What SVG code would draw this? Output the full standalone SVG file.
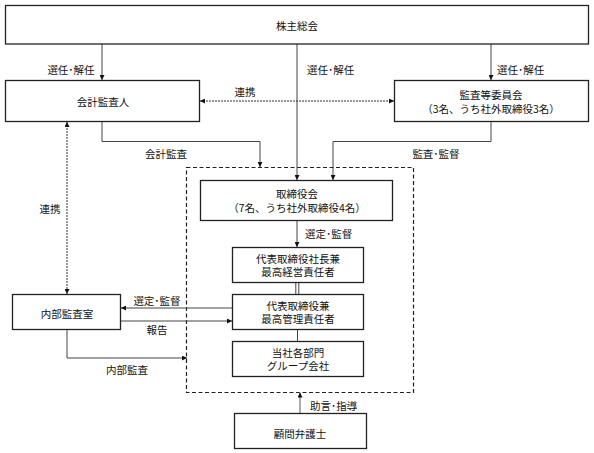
<svg xmlns="http://www.w3.org/2000/svg" width="594" height="453" viewBox="0 0 594 453">
<defs>
<marker id="ah" viewBox="0 0 10 10" refX="10" refY="5" markerWidth="5" markerHeight="5" orient="auto-start-reverse" markerUnits="userSpaceOnUse">
<path d="M0,0 L10,5 L0,10 z" fill="#111"/>
</marker>
</defs>
<style>
text{font-family:"Noto Sans CJK JP","Noto Sans CJK SC",sans-serif;font-size:10.5px;fill:#111;dominant-baseline:central}
.c{text-anchor:middle}
.box{fill:#fff;stroke:#222;stroke-width:1.3}
.ln{fill:none;stroke:#444;stroke-width:1}
.lg{fill:none;stroke:#888;stroke-width:1.4}
.dot{fill:none;stroke:#333;stroke-width:1;stroke-dasharray:2,1}
.dash{fill:none;stroke:#222;stroke-width:1.2;stroke-dasharray:4,2.5}
</style>
<rect width="594" height="453" fill="#fff"/>
<g id="group-box"><rect class="dash" x="186.5" y="167.5" width="227" height="225"/></g>
<g id="connectors">
<path class="ln" d="M102,44 V80" marker-end="url(#ah)"/>
<path class="ln" d="M297,44 V180" marker-end="url(#ah)"/>
<path class="ln" d="M491,44 V80" marker-end="url(#ah)"/>
<path class="dot" d="M200,101 H394" marker-start="url(#ah)" marker-end="url(#ah)"/>
<path class="ln" d="M102,122 V141.5 H260 V167" marker-end="url(#ah)"/>
<path class="ln" d="M491,122 V141.5 H333 V180" marker-end="url(#ah)"/>
<path class="ln" d="M297,220 V247" marker-end="url(#ah)"/>
<path class="ln" d="M295.8,282 V294 M298.8,282 V294"/>
<path class="ln" d="M297.5,329 V341"/>
<path class="lg" d="M300,413 V392.5" marker-end="url(#ah)"/>
<path class="dot" d="M67,122 V294" marker-start="url(#ah)" marker-end="url(#ah)"/>
<path class="ln" d="M232,308 H121" marker-end="url(#ah)"/>
<path class="ln" d="M121,321 H232" marker-end="url(#ah)"/>
<path class="ln" d="M67,330 V358 H187" marker-end="url(#ah)"/>
</g>
<g id="labels">
<text class="c" x="71" y="69">選任･解任</text>
<text x="307" y="69">選任･解任</text>
<text x="497" y="69">選任･解任</text>
<text class="c" x="245" y="91">連携</text>
<text class="c" x="166" y="153">会計監査</text>
<text class="c" x="436" y="153">監査･監督</text>
<text x="305" y="233">選定･監督</text>
<text class="c" x="50" y="208">連携</text>
<text class="c" x="157" y="300">選定･監督</text>
<text class="c" x="157" y="329">報告</text>
<text class="c" x="127" y="369">内部監査</text>
<text x="310" y="405">助言･指導</text>
</g>
<g id="shareholders"><rect class="box" x="5.5" y="5.5" width="583" height="38.5"/><text class="c" x="297" y="25">株主総会</text></g>
<g id="auditor"><rect class="box" x="5.5" y="80.5" width="194" height="41"/><text class="c" x="103" y="101">会計監査人</text></g>
<g id="audit-committee"><rect class="box" x="394.5" y="80.5" width="194" height="41"/><text class="c" x="491" y="94.5">監査等委員会</text><text class="c" x="491" y="108">（3名、うち社外取締役3名）</text></g>
<g id="board"><rect class="box" x="200.5" y="180.5" width="192" height="40"/><text class="c" x="297" y="193.5">取締役会</text><text class="c" x="297" y="207">（7名、うち社外取締役4名）</text></g>
<g id="ceo"><rect class="box" x="232.5" y="247.5" width="131" height="35"/><text class="c" x="298" y="258">代表取締役社長兼</text><text class="c" x="298" y="271.5">最高経営責任者</text></g>
<g id="cco"><rect class="box" x="232.5" y="294.5" width="131" height="35"/><text class="c" x="298" y="305">代表取締役兼</text><text class="c" x="298" y="318.5">最高管理責任者</text></g>
<g id="departments"><rect class="box" x="232.5" y="341.5" width="131" height="35"/><text class="c" x="298" y="352">当社各部門</text><text class="c" x="298" y="365.5">グループ会社</text></g>
<g id="internal-audit"><rect class="box" x="12.5" y="294.5" width="108" height="35"/><text class="c" x="67" y="313">内部監査室</text></g>
<g id="lawyer"><rect class="box" x="234.5" y="413.5" width="132" height="35"/><text class="c" x="300" y="433">顧問弁護士</text></g>
</svg>
